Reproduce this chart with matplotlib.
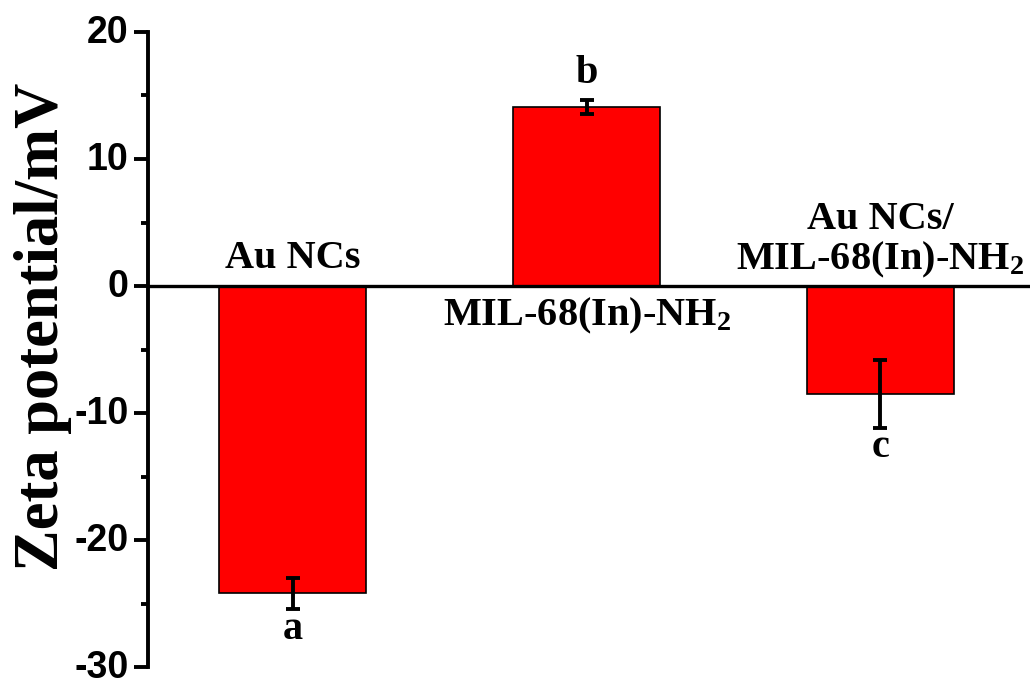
import matplotlib
matplotlib.use("Agg")
import matplotlib.pyplot as plt
import matplotlib.transforms as mtransforms
from matplotlib.ticker import MultipleLocator, FuncFormatter

plt.rcParams["mathtext.fontset"] = "custom"
plt.rcParams["mathtext.rm"] = "Liberation Serif:bold"
plt.rcParams["mathtext.bf"] = "Liberation Serif:bold"
plt.rcParams["mathtext.it"] = "Liberation Serif:bold"

categories = ["Au NCs", "MIL-68(In)-NH$_\\mathrm{2}$", "Au NCs/\nMIL-68(In)-NH$_\\mathrm{2}$"]
values = [-24.2, 14.1, -8.5]
errors = [1.2, 0.55, 2.65]
letters = ["a", "b", "c"]

fig = plt.figure(figsize=(10.32, 6.79), dpi=100)
ax = fig.add_axes([148/1032, 12/679, (1030-148)/1032, (667-32)/679])

x = [1, 2, 3]
ax.bar(x, values, width=0.5, color="#ff0000", edgecolor="black", linewidth=1.2, zorder=2)
ax.errorbar(x, values, yerr=errors, fmt="none", ecolor="black", elinewidth=2.8,
            capsize=5, capthick=2.8, zorder=3)
ax.axhline(0, color="black", linewidth=2.4, zorder=4)

ax.set_xlim(0.507, 3.51)
ax.set_ylim(-30, 20)
ax.yaxis.set_major_locator(MultipleLocator(10))
ax.yaxis.set_minor_locator(MultipleLocator(5))
ax.yaxis.set_major_formatter(FuncFormatter(lambda v, p: f"{int(round(v))}"))
for s in ["top", "right", "bottom"]:
    ax.spines[s].set_visible(False)
ax.spines["left"].set_linewidth(2.8)
ax.set_xticks([])
ax.tick_params(axis="y", which="major", length=10, width=2.8, direction="out", pad=4)
ax.tick_params(axis="y", which="minor", length=5, width=2.8, direction="out")
offset = mtransforms.ScaledTranslation(0, 3/100, fig.dpi_scale_trans)
for lab in ax.get_yticklabels():
    lab.set_fontfamily("Liberation Sans")
    lab.set_fontweight("bold")
    lab.set_fontsize(27)
    lab.set_transform(lab.get_transform() + offset)

ax.set_ylabel("Zeta potential/mV", fontfamily="Liberation Serif", fontweight="bold",
              fontsize=45)
ax.yaxis.set_label_coords(-0.086, 0.535)

tf = dict(fontfamily="Liberation Serif", fontweight="bold", fontsize=29)
# category labels
ax.text(x[0], 0.7, categories[0], ha="center", va="bottom", **tf)
ax.text(x[1], -0.8, categories[1], ha="center", va="top", **tf)
ax.text(x[2], 0.5, categories[2], ha="center", va="bottom", multialignment="center",
        linespacing=1.05, **tf)
# significance letters
ax.text(x[0], values[0] - errors[0] - 0.2, letters[0], ha="center", va="top", **tf)
ax.text(x[1], values[1] + errors[1] + 0.6, letters[1], ha="center", va="bottom", **tf)
ax.text(x[2], values[2] - errors[2] - 0.1, letters[2], ha="center", va="top", **tf)

fig.savefig("out.png", dpi=100)
